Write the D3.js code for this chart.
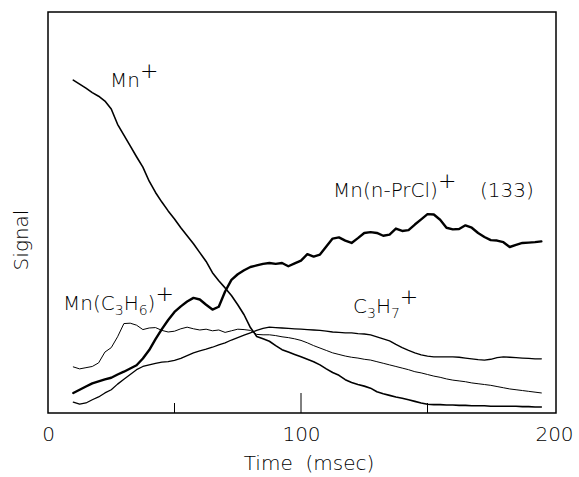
<!DOCTYPE html>
<html>
<head>
<meta charset="utf-8">
<script src="https://cdn.jsdelivr.net/npm/d3@7"></script>
<style>
  body { margin: 0; background: #fff; }
  svg { display: block; }
  text { font-family: "DejaVu Sans", sans-serif; font-weight: 300; fill: #000; white-space: pre; }
  .trace { fill: none; stroke: #000; stroke-linejoin: round; stroke-linecap: round; }
</style>
</head>
<body>
<svg id="chart"></svg>
<script>
// time grid (msec) shared by all traces
var timeMs = [10, 12.5, 15, 17.5, 20, 22.5, 25, 27.5, 30, 32.5,
  35, 37.5, 40, 42.5, 45, 47.5, 50, 52.5, 55, 57.5,
  60, 62.5, 65, 67.5, 70, 72.5, 75, 77.5, 80, 82.5,
  85, 87.5, 90, 92.5, 95, 97.5, 100, 102.5, 105, 107.5,
  110, 112.5, 115, 117.5, 120, 122.5, 125, 127.5, 130, 132.5,
  135, 137.5, 140, 142.5, 145, 147.5, 150, 152.5, 155, 157.5,
  160, 162.5, 165, 167.5, 170, 172.5, 175, 177.5, 180, 182.5,
  185, 187.5, 190, 192.5, 195];

// signal, arbitrary units
var mnPlus = [83.0, 82.0, 81.0, 79.9, 79.0, 77.8, 75.8, 72.0, 69.3, 66.6,
  63.9, 61.3, 57.8, 55.0, 52.6, 50.4, 48.4, 46.2, 44.2, 42.2,
  40.0, 37.8, 35.0, 33.0, 31.2, 29.3, 27.0, 24.5, 21.3, 19.1,
  18.5, 17.9, 16.8, 15.8, 15.2, 14.6, 14.0, 13.4, 12.8, 12.0,
  11.0, 10.1, 9.4, 8.3, 7.6, 7.1, 6.7, 6.2, 5.3, 4.8,
  4.4, 4.0, 3.7, 3.3, 2.9, 2.5, 2.2, 2.1, 2.1, 2.0,
  2.0, 1.9, 1.9, 1.8, 1.8, 1.8, 1.7, 1.7, 1.7, 1.7,
  1.7, 1.6, 1.6, 1.5, 1.5];
var mnPrCl = [5.0, 5.8, 6.6, 7.4, 7.9, 8.4, 8.8, 9.6, 10.3, 11.1,
  11.9, 13.6, 15.7, 18.4, 20.9, 23.2, 25.2, 26.6, 27.8, 28.7,
  28.3, 27.0, 25.8, 26.5, 30.3, 33.2, 34.6, 35.6, 36.4, 36.8,
  37.2, 37.4, 37.2, 37.4, 36.6, 37.3, 38.0, 39.6, 39.0, 39.5,
  41.5, 43.5, 43.8, 43.0, 42.4, 43.6, 44.9, 45.1, 44.9, 44.2,
  44.5, 46.0, 45.4, 45.6, 47.0, 48.3, 49.6, 49.5, 48.2, 46.2,
  45.8, 45.9, 46.8, 46.2, 44.9, 43.9, 43.1, 43.0, 42.6, 41.4,
  41.9, 42.4, 42.5, 42.6, 42.8];
var mnC3H6 = [11.5, 11.0, 11.3, 11.6, 12.5, 15.2, 16.3, 19.0, 22.3, 22.4,
  21.9, 20.8, 21.2, 21.3, 20.6, 20.2, 20.4, 21.0, 21.4, 21.0,
  20.7, 20.9, 20.5, 20.7, 20.1, 20.5, 20.9, 20.8, 20.6, 19.6,
  19.5, 19.5, 19.3, 19.0, 18.8, 18.5, 18.1, 17.5, 16.8, 16.2,
  15.6, 15.0, 14.6, 14.2, 13.9, 13.7, 13.4, 13.2, 12.8, 12.4,
  12.0, 11.6, 11.2, 10.8, 10.3, 10.0, 9.6, 9.2, 8.9, 8.5,
  8.2, 8.0, 7.8, 7.5, 7.3, 7.1, 6.9, 6.6, 6.3, 6.0,
  5.8, 5.6, 5.4, 5.2, 5.0];
var c3h7 = [2.7, 2.2, 2.5, 3.3, 4.0, 5.0, 5.8, 7.2, 8.4, 9.6,
  10.8, 11.6, 12.0, 12.4, 12.7, 12.8, 13.1, 13.6, 14.3, 15.0,
  15.5, 15.9, 16.4, 17.0, 17.5, 18.2, 18.8, 19.4, 20.0, 20.6,
  21.1, 21.4, 21.3, 21.2, 21.1, 21.0, 20.9, 20.8, 20.7, 20.6,
  20.4, 20.2, 20.1, 20.0, 20.0, 19.8, 19.7, 19.5, 19.0, 18.5,
  18.0, 17.1, 16.3, 15.6, 15.0, 14.5, 14.2, 14.0, 14.0, 14.0,
  14.0, 13.9, 13.7, 13.5, 13.3, 13.2, 13.4, 13.8, 14.0, 13.9,
  13.8, 13.7, 13.6, 13.5, 13.5];

var tickLabels = [0, 100, 200];
var innerTicks = [50, 100, 150];

var width = 579, height = 477;
var svg = d3.select("#chart").attr("width", width).attr("height", height);

var x = d3.scaleLinear().domain([0, 200]).range([48, 554]);
var y = d3.scaleLinear().domain([0, 100]).range([413, 12]);

// frame
svg.append("rect")
  .attr("x", 48).attr("y", 12)
  .attr("width", 508).attr("height", 401)
  .attr("fill", "none").attr("stroke", "#000").attr("stroke-width", 1.5);

// little inward ticks on the time axis, the middle one longer
svg.selectAll(".tick-in")
  .data(innerTicks)
  .enter().append("line")
  .attr("class", "tick-in")
  .attr("x1", function(d) { return x(d); })
  .attr("x2", function(d) { return x(d); })
  .attr("y1", 413)
  .attr("y2", function(d) { return d == 100 ? 393 : 403; })
  .attr("stroke", "#000").attr("stroke-width", 1);

var xAxis = d3.axisBottom(x).tickValues(tickLabels).tickSize(0).tickPadding(14);
var gx = svg.append("g").attr("transform", "translate(0,413)").call(xAxis);
gx.select(".domain").remove();
gx.selectAll("text")
  .style("font-family", "DejaVu Sans, sans-serif")
  .style("font-weight", 300)
  .style("font-size", "20px")
  .attr("fill", "#000");

svg.append("text")
  .attr("x", 309).attr("y", 470)
  .attr("text-anchor", "middle")
  .style("font-size", "20px")
  .text("Time  (msec)");

svg.append("text")
  .attr("transform", "translate(28,240) rotate(-90)")
  .attr("text-anchor", "middle")
  .style("font-size", "20px")
  .text("Signal");

// traces
var line = d3.line()
  .x(function(d) { return x(d[0]); })
  .y(function(d) { return y(d[1]); });

var traces = [
  { name: "mnPlus", values: mnPlus, w: 1.6 },
  { name: "mnPrCl", values: mnPrCl, w: 2.4 },
  { name: "mnC3H6", values: mnC3H6, w: 1.0 },
  { name: "c3h7", values: c3h7, w: 1.3 }
];

svg.selectAll(".trace")
  .data(traces)
  .enter().append("path")
  .attr("class", "trace")
  .attr("stroke-width", function(d) { return d.w; })
  .attr("d", function(d) { return line(timeMs.map(function(t, i) { return [t, d.values[i]]; })); });

// labels
function label(xp, yp, parts) {
  var t = svg.append("text").attr("x", xp).attr("y", yp).style("font-size", "20px");
  var shift = 0;
  parts.forEach(function(p) {
    var target = p.sub ? 5 : p.sup ? -9 : 0;
    var ts = t.append("tspan").attr("dy", target - shift).text(p.s);
    if (p.sub) ts.style("font-size", "14px");
    if (p.sup) ts.style("font-size", "22px");
    shift = target;
  });
  return t;
}

label(110, 87, [{ s: "Mn" }, { s: "+", sup: true }]);
label(333, 197, [{ s: "Mn(n-PrCl)" }, { s: "+", sup: true }]);
svg.append("text").attr("x", 480).attr("y", 197).style("font-size", "20px").text("(133)");
label(63, 310, [{ s: "Mn(C" }, { s: "3", sub: true }, { s: "H" }, { s: "6", sub: true }, { s: ")" }, { s: "+", sup: true }]);
label(353, 313, [{ s: "C" }, { s: "3", sub: true }, { s: "H" }, { s: "7", sub: true }, { s: "+", sup: true }]);
</script>
</body>
</html>
